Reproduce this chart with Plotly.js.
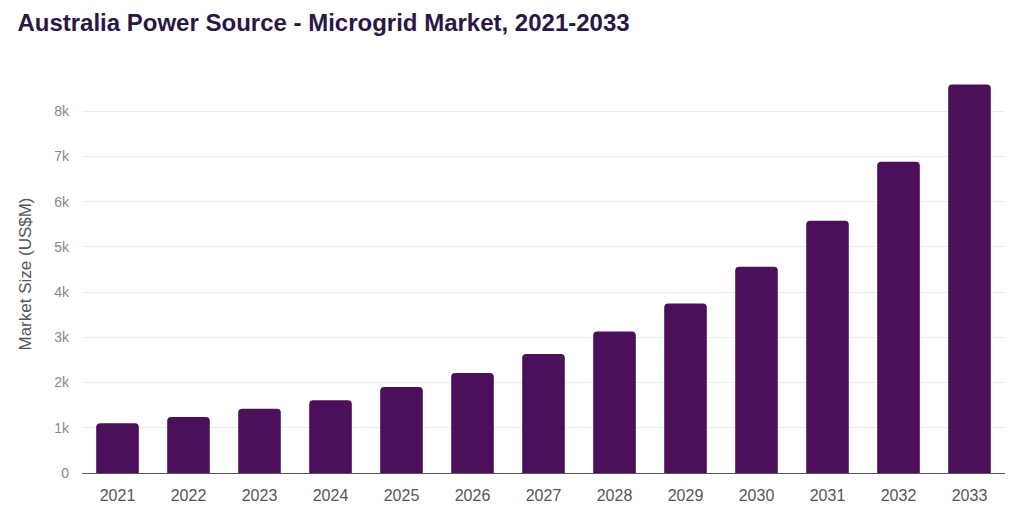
<!DOCTYPE html>
<html>
<head>
<meta charset="utf-8">
<script src="https://cdn.plot.ly/plotly-3.0.1.min.js"></script>
<style>html,body{margin:0;padding:0;background:#fff;}#chart{width:1024px;height:519px;}</style>
</head>
<body>
<div id="chart"></div>
<script>
const years = ["2021","2022","2023","2024","2025","2026","2027","2028","2029","2030","2031","2032","2033"];
const marketSize = [1100, 1240, 1420, 1610, 1900, 2210, 2630, 3130, 3750, 4560, 5580, 6880, 8590];
const yTickVals = [0,1000,2000,3000,4000,5000,6000,7000,8000];
const yTickText = ["0","1k","2k","3k","4k","5k","6k","7k","8k"];

Plotly.newPlot("chart", [{
  type: "bar",
  x: years,
  y: marketSize,
  marker: {color: "#4b1059", cornerradius: 4},
  hoverinfo: "x+y"
}], {
  width: 1024, height: 519,
  margin: {l: 82, r: 19, t: 75, b: 46},
  paper_bgcolor: "#fff", plot_bgcolor: "#fff",
  bargap: 0.4,
  title: {text: "Australia Power Source - Microgrid Market, 2021-2033", x: 0.017, xanchor: "left", y: 0.957, yanchor: "middle",
    font: {family: "Liberation Sans, Arial, sans-serif", size: 24, color: "#2b1744", weight: "bold"}},
  xaxis: {type: "category", showgrid: false, showline: true, linecolor: "#555", linewidth: 1,
    ticks: "", tickfont: {family: "Liberation Sans, Arial, sans-serif", size: 16, color: "#555"}, ticklabelstandoff: 8},
  yaxis: {range: [0, 8800], tickvals: yTickVals, ticktext: yTickText, showgrid: true, gridcolor: "#ececec",
    zeroline: false, ticks: "", ticklabelstandoff: 12,
    tickfont: {family: "Liberation Sans, Arial, sans-serif", size: 14, color: "#888"},
    title: {text: "Market Size (US$M)", standoff: 18, font: {family: "Liberation Sans, Arial, sans-serif", size: 17, color: "#555"}}},
  showlegend: false
}, {displayModeBar: false});
</script>
</body>
</html>
